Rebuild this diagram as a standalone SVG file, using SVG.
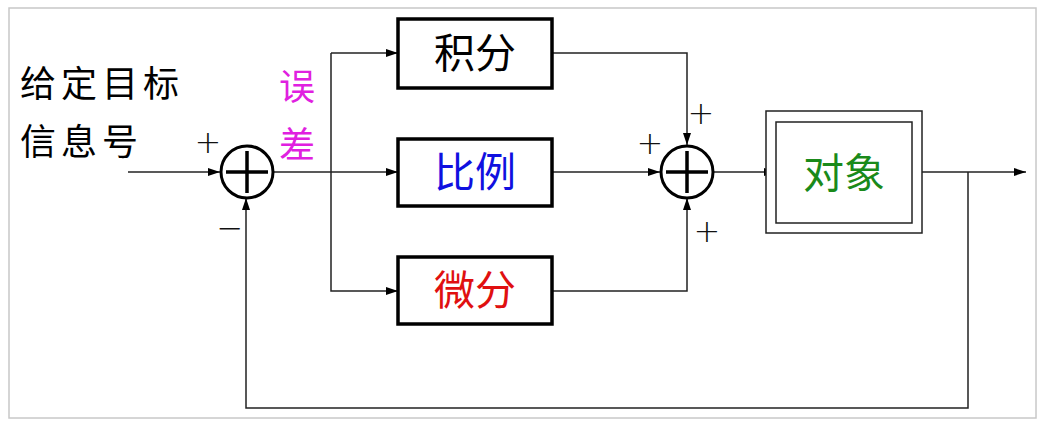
<svg xmlns="http://www.w3.org/2000/svg" width="1047" height="427" viewBox="0 0 1047 427">
<style>
.box{fill:#fff;stroke:#000;stroke-width:3.5}
.sum{fill:#fff;stroke:#000;stroke-width:3}
.cross{stroke:#000;stroke-width:3.5}
.ln{fill:none;stroke:#222;stroke-width:1.5}
.lbl{font-family:"Noto Sans CJK SC","Noto Sans",sans-serif;font-size:41px;text-anchor:middle}
.cn{font-family:"Noto Sans CJK SC",sans-serif;font-size:36px;font-weight:400}
.sg{font-family:"DejaVu Sans","Liberation Sans",sans-serif;font-size:32px;font-weight:200;fill:#111;text-anchor:middle}
</style>
<defs>
<marker id="ar" viewBox="0 0 12 8" refX="12" refY="4" markerWidth="12" markerHeight="8" markerUnits="userSpaceOnUse" orient="auto">
<path d="M0,0 L12,4 L0,8 z" fill="#000"/>
</marker>
</defs>
<rect x="9" y="8" width="1027" height="410" fill="#fff" stroke="#c8c8c8" stroke-width="1.5"/>
<g id="connectors">
<path class="ln" d="M128,172 H220" marker-end="url(#ar)"/>
<path class="ln" d="M273,172 H398" marker-end="url(#ar)"/>
<path class="ln" d="M331,53 H398" marker-end="url(#ar)"/>
<path class="ln" d="M331,53 V291 H398" marker-end="url(#ar)"/>
<path class="ln" d="M552,53 H687 V145" marker-end="url(#ar)"/>
<path class="ln" d="M552,172 H660" marker-end="url(#ar)"/>
<path class="ln" d="M552,291 H687 V198" marker-end="url(#ar)"/>
<path class="ln" d="M713,172 H776" marker-end="url(#ar)"/>
<path class="ln" d="M912,172 H1026" marker-end="url(#ar)"/>
<path class="ln" d="M968,172 V408 H246 V198" marker-end="url(#ar)"/>
</g>
<g id="input-label">
<text class="cn" x="20" y="97" letter-spacing="5">给定目标</text>
<text class="cn" x="20" y="155" letter-spacing="5">信息号</text>
</g>
<g id="error-label">
<text class="cn" x="279" y="100" fill="#e020e0">误</text>
<text class="cn" x="279" y="158" fill="#e020e0">差</text>
</g>
<g id="sum1">
<circle class="sum" cx="247" cy="172" r="26"/>
<path class="cross" d="M226,172 H268 M247,151 V193"/>
<text class="sg" x="208" y="153">+</text>
<text class="sg" x="230" y="239">−</text>
</g>
<g id="integral">
<rect class="box" x="398" y="19" width="154" height="69"/>
<text class="lbl" x="475" y="68" fill="#000">积分</text>
</g>
<g id="proportional">
<rect class="box" x="398" y="139" width="154" height="67"/>
<text class="lbl" x="475" y="187" fill="#1010e0">比例</text>
</g>
<g id="derivative">
<rect class="box" x="398" y="257" width="154" height="67"/>
<text class="lbl" x="475" y="305" fill="#e01010">微分</text>
</g>
<g id="sum2">
<circle class="sum" cx="687" cy="172" r="26"/>
<path class="cross" d="M666,172 H708 M687,151 V193"/>
<text class="sg" x="650" y="154">+</text>
<text class="sg" x="701" y="124">+</text>
<text class="sg" x="707" y="242">+</text>
</g>
<g id="plant">
<rect x="766" y="111" width="156" height="122" fill="#fff" stroke="#222" stroke-width="1.5"/>
<rect x="776" y="122" width="136" height="101" fill="#fff" stroke="#222" stroke-width="1.5"/>
<text class="lbl" x="844" y="188" fill="#1a8a1a">对象</text>
</g>
</svg>
